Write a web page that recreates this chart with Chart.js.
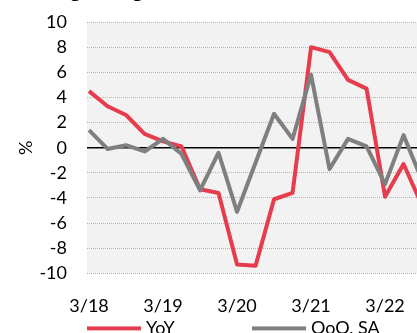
<!DOCTYPE html>
<html>
<head>
<meta charset="utf-8">
<script src="https://cdn.jsdelivr.net/npm/chart.js@4/dist/chart.umd.min.js"></script>
<style>
  html, body { margin: 0; padding: 0; background: #fff; }
  #frame { position: relative; width: 417px; height: 333px; overflow: hidden; }
  #gdp { position: absolute; left: 0; top: -20px; }
</style>
</head>
<body>
<div id="frame"><canvas id="gdp" width="440" height="360"></canvas></div>
<script>
// Quarter-end months, 1Q18 .. 3Q22
const quarters = ['3/18', '6/18', '9/18', '12/18', '3/19', '6/19', '9/19', '12/19',
  '3/20', '6/20', '9/20', '12/20', '3/21', '6/21', '9/21', '12/21', '3/22', '6/22', '9/22'];

// Real GDP growth, %
const yoy = [4.5, 3.3, 2.6, 1.1, 0.5, 0.1, -3.3, -3.6, -9.3, -9.4, -4.1, -3.6,
  8.0, 7.6, 5.4, 4.7, -3.9, -1.3, -4.6];
const qoqSA = [1.4, -0.1, 0.2, -0.3, 0.7, -0.5, -3.4, -0.4, -5.1, -1.2, 2.7, 0.7,
  5.8, -1.7, 0.7, 0.1, -2.9, 1.0, -2.6];

// Axis labels
const xTickLabels = ['3/18', '3/19', '3/20', '3/21', '3/22'];
const yMin = -10, yMax = 10, yStep = 2;

const seriesLabels = ['YoY', 'QoQ, SA'];
const seriesColors = ['#E63C4E', '#7F7F7F'];

const toPoints = values => values.map((v, i) => ({ x: i, y: v }));

Chart.defaults.font.family = 'Lato';
Chart.defaults.color = '#000';

// grey plot background
const plotBackground = {
  id: 'plotBackground',
  beforeDraw(chart) {
    const { ctx, chartArea: a } = chart;
    ctx.save();
    ctx.fillStyle = '#F2F2F2';
    ctx.fillRect(a.left, a.top, a.right - a.left, a.bottom - a.top);
    ctx.restore();
  }
};

// solid zero line under the series
const zeroLine = {
  id: 'zeroLine',
  beforeDatasetsDraw(chart) {
    const { ctx, chartArea: a, scales: { y } } = chart;
    const py = y.getPixelForValue(0);
    ctx.save();
    ctx.strokeStyle = '#000';
    ctx.lineWidth = 1.5;
    ctx.beginPath();
    ctx.moveTo(a.left, py);
    ctx.lineTo(a.right, py);
    ctx.stroke();
    ctx.restore();
  }
};

// legend row below the axis: long line sample followed by the series name
const lineLegend = {
  id: 'lineLegend',
  afterDraw(chart) {
    const { ctx, chartArea: a } = chart;
    const y = a.bottom + 55;
    ctx.save();
    ctx.font = '18px Lato';
    ctx.textBaseline = 'middle';
    ctx.textAlign = 'left';
    chart.data.datasets.forEach((ds, i) => {
      const x = a.left + i * 165;
      ctx.fillStyle = ds.borderColor;
      ctx.fillRect(x, y - 2, 54, 4);
      ctx.fillStyle = '#000';
      ctx.fillText(ds.label, x + 59, y);
    });
    ctx.restore();
  }
};

new Chart(document.getElementById('gdp'), {
  type: 'line',
  data: {
    datasets: [
      {
        label: seriesLabels[0],
        data: toPoints(yoy),
        borderColor: seriesColors[0],
        backgroundColor: seriesColors[0],
        borderWidth: 4,
        order: 2
      },
      {
        label: seriesLabels[1],
        data: toPoints(qoqSA),
        borderColor: seriesColors[1],
        backgroundColor: seriesColors[1],
        borderWidth: 4,
        order: 1
      }
    ]
  },
  options: {
    responsive: false,
    animation: false,
    devicePixelRatio: 1,
    elements: {
      point: { radius: 0, hoverRadius: 0 },
      line: { tension: 0, borderJoinStyle: 'round', fill: false }
    },
    layout: { padding: { left: 26, right: 0, top: 0, bottom: 9 } },
    plugins: {
      legend: { display: false },
      tooltip: { enabled: false },
      title: {
        display: true,
        text: 'Hong Kong: Real GDP Growth',
        align: 'start',
        color: '#000',
        font: { family: 'Liberation Sans', size: 22, weight: 'bold' },
        padding: { top: -3, bottom: 18.6 }
      }
    },
    scales: {
      x: {
        type: 'linear',
        min: -0.11,
        max: 18.97,
        grid: { display: false },
        border: { display: false },
        afterBuildTicks(scale) {
          scale.ticks = xTickLabels.map(l => ({ value: quarters.indexOf(l) }));
        },
        ticks: {
          padding: 14,
          maxRotation: 0,
          autoSkip: false,
          font: { size: 18 },
          callback: (value) => quarters[value]
        }
      },
      y: {
        min: yMin,
        max: yMax,
        afterFit(scale) { scale.width = 61; },
        grid: {
          drawTicks: false,
          lineWidth: 1,
          color: c => (c.tick && c.tick.value === 0 ? 'rgba(0,0,0,0)' : '#B4B4B4')
        },
        border: { display: false, dash: [1, 1] },
        ticks: {
          stepSize: yStep,
          autoSkip: false,
          padding: 20,
          font: { size: 18 }
        },
        title: {
          display: true,
          text: '%',
          font: { size: 18 },
          padding: { top: -11, bottom: 0 }
        }
      }
    }
  },
  plugins: [plotBackground, zeroLine, lineLegend]
});
</script>
</body>
</html>
